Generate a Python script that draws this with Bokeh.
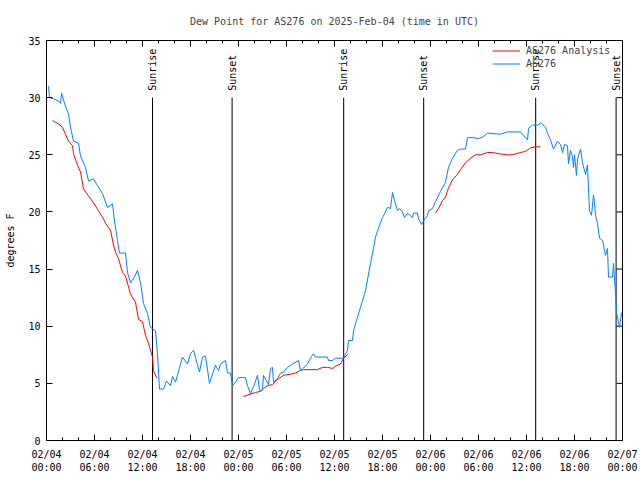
import math
from bokeh.plotting import figure
from bokeh.models import FixedTicker, Range1d, Legend, LegendItem, ColumnDataSource
from bokeh.core.properties import value
from bokeh.embed import file_html
from bokeh.resources import INLINE

FONT = "DejaVu Sans Mono"
NAN = float("nan")

# hours since 2025-02-04 00:00 UTC
obs_hours = [0.25, 0.375, 0.875, 1.5, 1.75, 1.875, 2.125, 2.5, 2.75, 3.0, 3.375, 4.0, 4.25, 4.875, 5.25,
             5.875, 6.375, 7.0, 7.625, 8.25, 8.5, 8.875, 9.125, 9.875, 10.125, 10.5, 11.0, 11.375, 11.75,
             12.125, 12.625, 13.0, 13.625, 13.875, 14.125, 14.625, 15.0, 15.5, 15.75, 16.125, 17.0, 17.625,
             18.0, 18.375, 18.875, 19.125, 19.5, 19.875, 20.375, 21.125, 21.5, 21.75, 22.375, 22.625, 23.0,
             23.25, 23.625, 24.0, 24.875, 25.125, 25.5, 25.875, 26.375, 26.625, 27.0, 27.125, 27.5, 27.75,
             28.0, 28.25, 28.375, 28.875, 29.25, 29.625, 30.125, 30.75, 31.5, 31.75, 32.625, 33.0, 33.375,
             33.625, 35.125, 35.25, 35.75, 36.125, 37.125, 37.625, 37.75, 38.25, 38.375, 38.75, 39.875, 40.5,
             40.875, 41.125, 41.5, 42.0, 42.375, 42.625, 43.0, 43.25, 43.5, 43.875, 44.125, 44.5, 44.75,
             45.125, 45.75, 45.875, 46.375, 46.5, 46.875, 47.125, 47.625, 47.75, 48.25, 48.625, 49.25,
             49.875, 50.25, 50.75, 51.375, 51.75, 52.375, 52.625, 53.375, 54.0, 54.625, 55.125, 56.75,
             57.625, 59.25, 59.625, 60.125, 60.25, 60.75, 61.5, 61.75, 62.375, 62.625, 63.0, 63.375, 63.875,
             64.25, 64.5, 64.75, 65.125, 65.25, 65.5, 65.75, 65.875, 66.0, 66.25, 66.375, 66.75, 67.0,
             67.375, 67.625, 67.75, 67.875, 68.125, 68.375, 68.5, 68.625, 68.875, 69.125, 69.5, 69.625,
             69.875, 70.125, 70.25, 70.75, 70.875, 71.0, 71.125, 71.25, 71.5, 71.625, 71.875]
obs_dewpt = [31.0, 30.0, 29.9, 29.7, 29.5, 30.4, 29.8, 29.0, 28.6, 27.4, 26.2, 26.0, 24.9, 23.9, 22.7,
             22.9, 22.3, 21.6, 20.4, 20.7, 19.2, 17.5, 16.4, 16.4, 14.7, 13.8, 14.3, 14.9, 13.8,
             12.0, 11.1, 9.9, 9.6, 7.6, 4.5, 4.5, 5.2, 4.8, 5.6, 5.1, 7.3, 6.7,
             7.6, 7.9, 6.6, 6.0, 7.3, 7.4, 5.0, 6.6, 6.1, 6.7, 7.0, 5.9, 5.9,
             4.8, 5.1, 5.5, 5.5, 4.8, 4.1, 4.7, 5.7, 4.4, 4.4, 5.7, 5.2, 4.9,
             6.3, 6.4, 5.1, 5.4, 5.9, 6.0, 6.4, 6.7, 7.0, 6.1, 6.7, 7.2, 7.6,
             7.3, 7.3, 7.0, 7.0, 7.2, 7.2, 7.9, 8.75, 8.75, 9.6, 10.5, 13.1, 15.5,
             16.8, 17.8, 18.6, 19.5, 20.0, 20.4, 20.3, 21.7, 21.0, 20.1, 20.3, 20.0, 19.5,
             19.9, 19.5, 19.9, 19.9, 19.4, 18.9, 19.2, 19.7, 20.1, 20.3, 20.9, 21.8,
             22.6, 23.9, 24.7, 25.4, 25.5, 25.5, 26.5, 26.5, 26.4, 26.6, 26.9, 26.8,
             27.0, 27.0, 26.7, 26.3, 27.3, 27.6, 27.6, 27.8, 27.4, 26.9, 26.3, 25.5, 26.2,
             25.9, 25.2, 25.9, 25.8, 24.2, 25.4, 24.8, 23.9, 25.0, 23.2, 24.6, 25.5, 24.3,
             23.3, 24.1, 22.0, 20.1, 19.7, 21.5, 20.8, 19.7, 19.0, 17.7, 17.5, 17.1,
             16.2, 16.8, 14.3, 14.3, 15.5, 14.0, 13.0, 11.2, 10.3, 9.9, 11.2]

ana_hours = [0.75, 1.5, 2.0, 2.375, 2.75, 3.25, 3.375, 3.875, 4.25, 4.625, 5.25, 5.875, 6.5, 7.125,
             7.375, 8.0, 8.375, 8.625, 9.0, 9.5, 9.875, 10.5, 11.125, 11.5, 12.0, 12.375, 12.75, 13.25,
             13.375, 13.75, 13.875, NAN,
             24.625, 25.25, 26.125, 26.75, 27.125, 27.625, 28.25, 28.625, 29.0, 29.625, 30.5, 31.125,
             31.625, 32.125, 33.875, 34.5, 35.125, 35.75, 36.125, 36.75, 37.125, 37.625, 37.75, NAN,
             48.625, 49.0, 49.5, 49.875, 50.25, 50.75, 51.375, 51.75, 52.375, 53.0, 53.625, 54.25,
             55.125, 55.75, 56.5, 57.625, 58.25, 59.25, 59.875, 60.5, 61.125, 61.75]
ana_dewpt = [28.0, 27.7, 27.4, 26.8, 26.2, 25.8, 25.1, 24.1, 23.5, 22.0, 21.4, 20.8, 20.1, 19.4,
             19.0, 18.4, 17.1, 16.5, 15.9, 14.7, 14.4, 12.8, 12.1, 10.6, 10.4, 9.2, 8.5, 7.3,
             6.1, 5.5, 5.5, NAN,
             3.85, 4.0, 4.2, 4.3, 4.55, 4.8, 4.9, 5.2, 5.4, 5.7, 5.8, 5.9,
             6.1, 6.2, 6.2, 6.4, 6.4, 6.3, 6.5, 6.7, 7.2, 7.5, 7.6, NAN,
             19.9, 20.3, 21.0, 21.3, 22.1, 22.8, 23.3, 23.7, 24.3, 24.7, 25.0, 25.0,
             25.2, 25.2, 25.1, 25.0, 25.0, 25.2, 25.3, 25.6, 25.7, 25.7]

sunrise_hours = [13.25, 37.15, 61.15]
sunset_hours = [23.2, 47.15, 71.2]
marker_top = 30.0
label_y = 30.6

xtick_hours = [0, 6, 12, 18, 24, 30, 36, 42, 48, 54, 60, 66, 72]
xtick_labels = ["02/04\n00:00", "02/04\n06:00", "02/04\n12:00", "02/04\n18:00",
                "02/05\n00:00", "02/05\n06:00", "02/05\n12:00", "02/05\n18:00",
                "02/06\n00:00", "02/06\n06:00", "02/06\n12:00", "02/06\n18:00",
                "02/07\n00:00"]
xminor_hours = [h for h in range(0, 73, 2) if h % 6 != 0]
ytick_values = [0, 5, 10, 15, 20, 25, 30, 35]

X0, X1, Y0, Y1 = 0, 72, 0, 35
FW, FH = 576, 400

p = figure(frame_width=FW, frame_height=FH, output_backend="svg", toolbar_location=None,
           x_range=Range1d(X0, X1), y_range=Range1d(Y0, Y1),
           min_border_left=46, min_border_right=18, min_border_top=40, min_border_bottom=40,
           title="Dew Point for AS276 on 2025-Feb-04 (time in UTC)")
p.title.text_font = FONT
p.title.text_font_size = "10px"
p.title.text_font_style = "normal"
p.title.align = "center"
p.title.vertical_align = "top"
p.title.standoff = 24
p.xgrid.visible = False
p.ygrid.visible = False
p.outline_line_color = "black"
p.outline_line_width = 1
p.background_fill_color = "white"
p.border_fill_color = "white"

xa = p.xaxis[0]
xa.ticker = FixedTicker(ticks=xtick_hours, minor_ticks=xminor_hours)
xa.major_label_overrides = {h: l for h, l in zip(xtick_hours, xtick_labels)}
ya = p.yaxis[0]
ya.ticker = FixedTicker(ticks=ytick_values, minor_ticks=[])
ya.axis_label = "degrees F"
for ax in (xa, ya):
    ax.major_label_text_font = FONT
    ax.major_label_text_font_size = "10px"
    ax.axis_label_text_font = FONT
    ax.axis_label_text_font_size = "10px"
    ax.axis_label_text_font_style = "normal"
    ax.major_tick_in = 6
    ax.major_tick_out = 0
    ax.minor_tick_in = 3
    ax.minor_tick_out = 0
    ax.axis_line_color = "black"
    ax.major_tick_line_color = "black"
    ax.minor_tick_line_color = "black"
    ax.major_label_text_color = "black"
    ax.axis_label_text_color = "black"
xa.major_label_standoff = 8
ya.major_label_standoff = 6
ya.axis_label_standoff = 9

# mirrored ticks on the top and right edges (gnuplot style)
dy_major = 6 * (Y1 - Y0) / FH
dy_minor = 3 * (Y1 - Y0) / FH
dx_major = 6 * (X1 - X0) / FW
p.segment(x0=xtick_hours, y0=[Y1] * len(xtick_hours), x1=xtick_hours,
          y1=[Y1 - dy_major] * len(xtick_hours), line_color="black", line_width=1)
p.segment(x0=xminor_hours, y0=[Y1] * len(xminor_hours), x1=xminor_hours,
          y1=[Y1 - dy_minor] * len(xminor_hours), line_color="black", line_width=1)
p.segment(x0=[X1] * len(ytick_values), y0=ytick_values, x1=[X1 - dx_major] * len(ytick_values),
          y1=ytick_values, line_color="black", line_width=1)

# sunrise / sunset markers
ev_x = sunrise_hours + sunset_hours
ev_lbl = ["Sunrise"] * len(sunrise_hours) + ["Sunset"] * len(sunset_hours)
ev = ColumnDataSource(dict(x=ev_x, y0=[0] * len(ev_x), y1=[marker_top] * len(ev_x),
                           ly=[label_y] * len(ev_x), lbl=ev_lbl))
p.segment(x0="x", y0="y0", x1="x", y1="y1", source=ev, line_color="black", line_width=1)
p.text(x="x", y="ly", text="lbl", source=ev, angle=math.pi / 2, text_align="left",
       text_baseline="middle", text_font=value(FONT), text_font_size="10px", text_color="black")

r_ana = p.line(ana_hours, ana_dewpt, line_color="#ff0000", line_width=1)
r_obs = p.line(obs_hours, obs_dewpt, line_color="#0080ff", line_width=1)

legend = Legend(items=[LegendItem(label="AS276 Analysis", renderers=[r_ana]),
                       LegendItem(label="AS276", renderers=[r_obs])],
                location=(444, 368), background_fill_alpha=0, border_line_alpha=0,
                label_text_font=FONT, label_text_font_size="10px", glyph_width=28,
                glyph_height=13, label_height=13, spacing=0, padding=2, margin=0,
                label_standoff=6)
p.add_layout(legend)

open("out.html", "w").write(file_html(p, INLINE))
